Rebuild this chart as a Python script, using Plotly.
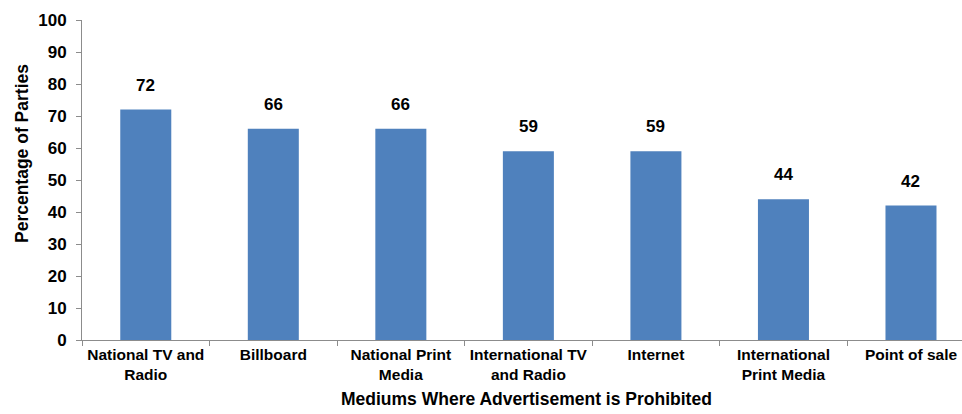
import plotly.graph_objects as go

categories = [
    "National TV and<br>Radio",
    "Billboard",
    "National Print<br>Media",
    "International TV<br>and Radio",
    "Internet",
    "International<br>Print Media",
    "Point of sale",
]
percentages = [72, 66, 66, 59, 59, 44, 42]
y_ticks = list(range(0, 101, 10))

bar_color = "#4F81BD"
axis_color = "#8C8C8C"
font_family = "Liberation Sans, Arial, sans-serif"

fig = go.Figure()
fig.add_trace(go.Bar(
    x=categories,
    y=percentages,
    marker=dict(color=bar_color, line=dict(width=0)),
    width=0.4,
    hoverinfo="x+y",
))

# value labels above each bar
for cat, val in zip(categories, percentages):
    fig.add_annotation(
        x=cat, y=val, text=f"<b>{val}</b>", showarrow=False,
        yanchor="bottom", yshift=13,
        font=dict(family=font_family, size=17, color="#000000"),
    )

fig.update_layout(
    width=962, height=414,
    margin=dict(l=82, r=0, t=20, b=74),
    paper_bgcolor="white", plot_bgcolor="white",
    showlegend=False,
    font=dict(family=font_family, color="#000000"),
    xaxis=dict(
        type="category",
        range=[-0.5, 6.4],
        showline=True, linecolor=axis_color, linewidth=1,
        ticks="outside", tickson="boundaries", ticklen=5, tickcolor=axis_color,
        tickfont=dict(family=font_family, size=15.5, color="#000000", weight="bold"),
        showgrid=False, zeroline=False,
    ),
    yaxis=dict(
        range=[0, 100],
        tickvals=y_ticks,
        showline=True, linecolor=axis_color, linewidth=1,
        ticks="outside", ticklen=5, tickcolor=axis_color,
        tickfont=dict(family=font_family, size=17, color="#000000", weight="bold"),
        ticklabelstandoff=6,
        showgrid=False, zeroline=False,
    ),
    annotations=list(fig.layout.annotations) + [
        dict(
            text="<b>Mediums Where Advertisement is Prohibited</b>",
            xref="paper", yref="paper", x=(526 - 82) / 880, y=-(399 - 340) / 320,
            xanchor="center", yanchor="middle", showarrow=False,
            font=dict(family=font_family, size=17.5, color="#000000"),
        ),
        dict(
            text="<b>Percentage of Parties</b>",
            xref="paper", yref="paper", x=-(82 - 22) / 880, y=(340 - 154) / 320,
            xanchor="center", yanchor="middle", textangle=-90, showarrow=False,
            font=dict(family=font_family, size=17.5, color="#000000"),
        ),
    ],
)

fig.write_html("out.html")
